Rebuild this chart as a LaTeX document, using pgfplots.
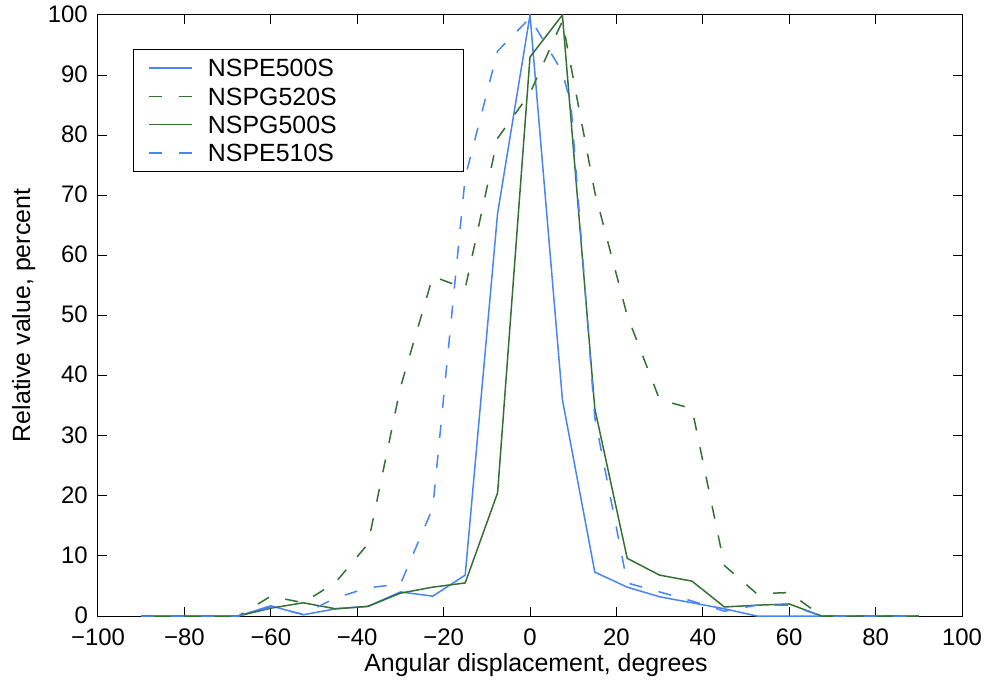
\documentclass[border=0pt]{standalone}
\usepackage{fontspec}
\setmainfont{Liberation Sans}
\usepackage{pgfplots}
\usepackage{pgfplotstable}
\pgfplotsset{compat=1.18}
\definecolor{lblue}{RGB}{72,132,245}
\definecolor{dgreen}{RGB}{52,112,52}

\pgfplotstableread{
x y
-90 0
-82.5 0
-75 0
-67.5 0
-60 1.7
-52.5 0.2
-45 1.2
-37.5 1.6
-30 4
-22.5 3.3
-15 6.8
-7.5 67
0 100
7.5 36
15 7.3
22.5 4.8
30 3.2
37.5 2.2
45 1.2
52.5 0
60 0
67.5 0
75 0
82.5 0
90 0
}\nspeA

\pgfplotstableread{
x y
-90 0
-82.5 0
-75 0
-67.5 0
-60 3.3
-52.5 2.2
-45 5.6
-37.5 12
-30 38
-22.5 56.5
-15 54.5
-7.5 79.5
0 87
7.5 99
15 70.5
22.5 50
30 36
37.5 34.5
45 8.4
52.5 3.7
60 3.9
67.5 0
75 0
82.5 0
90 0
}\nspgB

\pgfplotstableread{
x y
-90 0
-82.5 0
-75 0
-67.5 0
-60 1.3
-52.5 2.2
-45 1.2
-37.5 1.6
-30 3.8
-22.5 4.8
-15 5.5
-7.5 20.5
0 93
7.5 100
15 34.5
22.5 9.6
30 6.8
37.5 5.8
45 1.5
52.5 1.8
60 2
67.5 0
75 0
82.5 0
90 0
}\nspgA

\pgfplotstableread{
x y
-90 0
-82.5 0
-75 0
-67.5 0
-60 1.5
-52.5 0.3
-45 3
-37.5 4.7
-30 5.3
-22.5 18
-15 73
-7.5 94
0 99.5
7.5 90.5
9.5 85
15 33
22.5 5.5
30 4
37.5 2.5
45 0.8
52.5 1.8
60 1.8
67.5 0
75 0
82.5 0
90 0
}\nspeB

\begin{document}
\begin{tikzpicture}
\begin{axis}[
 scale only axis, width=864bp, height=601bp,
 xmin=-100, xmax=100, ymin=0, ymax=100,
 xtick={-100,-80,...,100},
 xticklabels={−100,−80,−60,−40,−20,0,20,40,60,80,100},
 ytick={0,10,...,100},
 tick align=inside, tick pos=both,
 major tick length=9bp,
 axis line style={line width=1bp, black},
 tick style={line width=1bp, black},
 ticklabel style={font=\fontsize{24}{24}\selectfont, inner sep=1bp, text depth=0pt},
 xticklabel style={yshift=-12bp},
 yticklabel style={xshift=-9bp, yshift=1bp},
 /pgf/number format/assume math mode=true,
 xlabel={Angular displacement, degrees},
 ylabel={Relative value, percent},
 label style={font=\fontsize{25}{25}\selectfont},
 xlabel style={at={(axis description cs:0.507,-0.0815)}, anchor=center},
 ylabel style={at={(axis description cs:-0.086,0.5)}, anchor=center},
 legend style={at={(rel axis cs:0.0405,0.943)}, anchor=north west, draw=black, line width=1bp, fill=white,
   font=\fontsize{25}{25}\selectfont, inner xsep=15bp, inner ysep=9.5bp, row sep=11bp, column sep=15bp,
   cells={anchor=west}, nodes={inner sep=0pt, text depth=0pt}},
 legend image code/.code={\draw[#1, line width=1.5bp] (0bp,0bp) -- (43bp,0bp);},
]
\addplot[lblue, line width=1.5bp] table[x=x,y=y] {\nspeA};
\addlegendentry{\makebox[241bp][l]{NSPE500S}}
\addplot[dgreen, line width=1.5bp, dash pattern=on 13bp off 17bp] table[x=x,y=y] {\nspgB};
\addlegendentry{\makebox[241bp][l]{NSPG520S}}
\addplot[dgreen, line width=1.5bp] table[x=x,y=y] {\nspgA};
\addlegendentry{\makebox[241bp][l]{NSPG500S}}
\addplot[lblue, line width=1.5bp, dash pattern=on 13bp off 17bp] table[x=x,y=y] {\nspeB};
\addlegendentry{\makebox[241bp][l]{NSPE510S}}
\end{axis}
\pgfresetboundingbox
\path[use as bounding box] ([shift={(-98bp,-71bp)}]current axis.south west) rectangle ([shift={(27bp,15bp)}]current axis.north east);
\end{tikzpicture}
\end{document}
